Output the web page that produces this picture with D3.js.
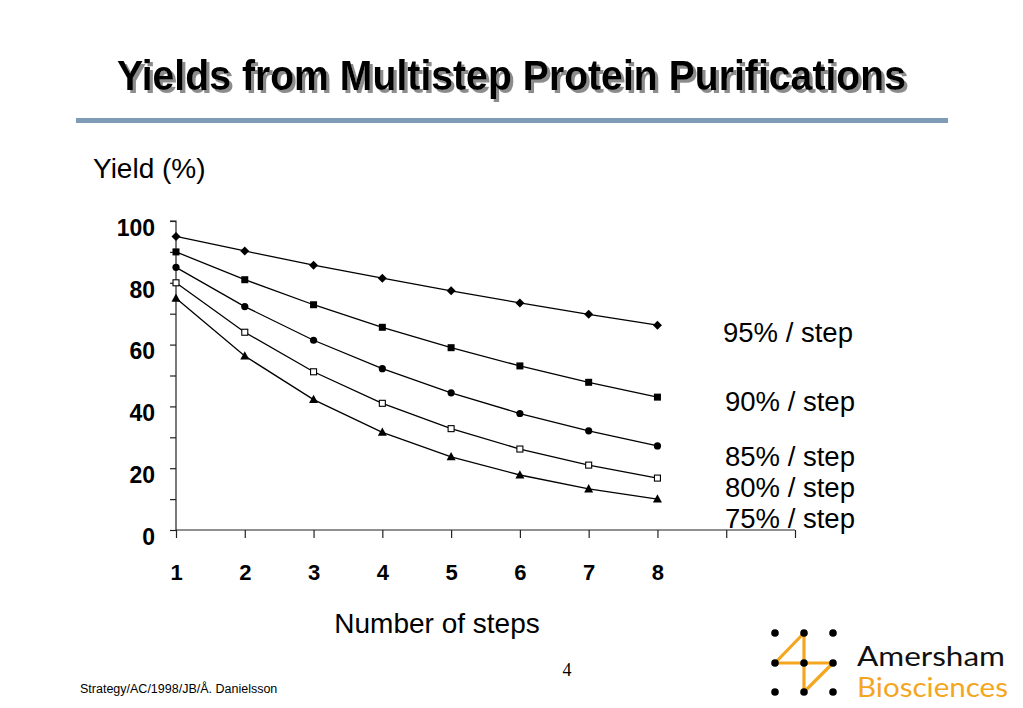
<!DOCTYPE html>
<html>
<head>
<meta charset="utf-8">
<script src="https://cdn.jsdelivr.net/npm/d3@7"></script>
<style>
html,body{margin:0;padding:0;background:#fff;}
svg{display:block;}
</style>
</head>
<body>
<svg id="c" width="1023" height="708"></svg>
<script>
// ---- data ----
const steps = [1, 2, 3, 4, 5, 6, 7, 8];
const xTicks = [1, 2, 3, 4, 5, 6, 7, 8, 9, 10];
const xTickLabels = ["1", "2", "3", "4", "5", "6", "7", "8", "", ""];
const yTicks = [0, 10, 20, 30, 40, 50, 60, 70, 80, 90, 100];
const yTickLabels = ["0", "", "20", "", "40", "", "60", "", "80", "", "100"];
const seriesNames = ["95% / step", "90% / step", "85% / step", "80% / step", "75% / step"];
const y95 = [95, 90.3, 85.7, 81.5, 77.4, 73.5, 69.8, 66.3];
const y90 = [90, 81, 72.9, 65.6, 59.0, 53.1, 47.8, 43.0];
const y85 = [85, 72.3, 61.4, 52.2, 44.4, 37.7, 32.1, 27.2];
const y80 = [80, 64, 51.2, 41.0, 32.8, 26.2, 21.0, 16.8];
const y75 = [75, 56.3, 42.2, 31.6, 23.7, 17.8, 13.3, 10.0];
const seriesValues = [y95, y90, y85, y80, y75];
const markers = ["diamond", "square", "circle", "opensquare", "triangle"];

// ---- layout ----
const svg = d3.select("#c");
const x = d3.scaleLinear().domain([1, 10]).range([176, 795]);
const y = d3.scaleLinear().domain([0, 100]).range([530, 221]);
const labelY = [342, 411, 466, 497, 528];
const labelX = [723, 725, 725, 725, 725];

// shadow filter for title
const defs = svg.append("defs");
const f = defs.append("filter").attr("id", "shadow").attr("x", "-5%").attr("y", "-20%").attr("width", "110%").attr("height", "150%");
f.append("feDropShadow").attr("dx", 3).attr("dy", 3).attr("stdDeviation", 0.3)
  .attr("flood-color", "#8c8c8c").attr("flood-opacity", 1);

const titleText = "Yields from Multistep Protein Purifications";
const tfont = "'Liberation Sans Narrow','Arial Narrow','Liberation Sans',Arial,sans-serif";
svg.append("text").attr("x", 117).attr("y", 90)
  .attr("font-family", tfont).attr("font-weight", "bold").attr("font-size", 42)
  .attr("fill", "#000").attr("textLength", 789).attr("lengthAdjust", "spacingAndGlyphs")
  .attr("filter", "url(#shadow)")
  .text(titleText);

// rule
svg.append("rect").attr("x", 76).attr("y", 118).attr("width", 872).attr("height", 5)
  .attr("fill", "#7f9cb7");

const sans = "'Liberation Sans',Arial,Helvetica,sans-serif";

// y title
svg.append("text").attr("x", 93).attr("y", 178).attr("font-family", sans)
  .attr("font-size", 28).attr("fill", "#000").text("Yield (%)");

// axes
const yAxis = d3.axisLeft(y).tickValues(yTicks).tickSize(6).tickPadding(15)
  .tickFormat((d, i) => yTickLabels[i]);
const gy = svg.append("g").attr("transform", "translate(176,0)").call(yAxis);
gy.select(".domain").attr("stroke", "#222").attr("stroke-width", 1.2).attr("d", "M-6," + y(100) + "H0V" + y(0));
gy.selectAll(".tick line").attr("stroke", "#222").attr("stroke-width", 1.2);
gy.selectAll(".tick text").attr("font-family", sans).attr("font-weight", "bold")
  .attr("font-size", 23).attr("fill", "#000").attr("y", 0).attr("dy", "0.62em");

const xAxis = d3.axisBottom(x).tickValues(xTicks).tickSize(8).tickPadding(26)
  .tickFormat((d, i) => xTickLabels[i]);
const gx = svg.append("g").attr("transform", "translate(0,530)").call(xAxis);
gx.select(".domain").attr("stroke", "#222").attr("stroke-width", 1.2).attr("d", "M" + x(1) + ",0H" + x(10));
gx.selectAll(".tick line").attr("stroke", "#222").attr("stroke-width", 1.2);
gx.selectAll(".tick text").attr("font-family", sans).attr("font-weight", "bold")
  .attr("font-size", 22).attr("fill", "#000");

// lines
const line = d3.line().x((d, i) => x(steps[i])).y(d => y(d));
seriesValues.forEach((vals) => {
  svg.append("path").datum(vals).attr("d", line)
    .attr("fill", "none").attr("stroke", "#000").attr("stroke-width", 1.3);
});

// markers
seriesValues.forEach((vals, si) => {
  const m = markers[si];
  const g = svg.append("g");
  vals.forEach((v, i) => {
    const cx = x(steps[i]), cy = y(v);
    if (m === "diamond") {
      g.append("path").attr("d", `M${cx},${cy-4.5}L${cx+4.5},${cy}L${cx},${cy+4.5}L${cx-4.5},${cy}Z`).attr("fill", "#000");
    } else if (m === "square") {
      g.append("rect").attr("x", cx-3.5).attr("y", cy-3.5).attr("width", 7).attr("height", 7).attr("fill", "#000");
    } else if (m === "circle") {
      g.append("circle").attr("cx", cx).attr("cy", cy).attr("r", 3.6).attr("fill", "#000");
    } else if (m === "opensquare") {
      g.append("rect").attr("x", cx-3).attr("y", cy-3).attr("width", 6).attr("height", 6)
        .attr("fill", "#fff").attr("stroke", "#000").attr("stroke-width", 1.1);
    } else {
      g.append("path").attr("d", `M${cx},${cy-4.8}L${cx+4.5},${cy+3.5}L${cx-4.5},${cy+3.5}Z`).attr("fill", "#000");
    }
  });
});

// series labels
seriesNames.forEach((n, i) => {
  svg.append("text").attr("x", labelX[i]).attr("y", labelY[i]).attr("font-family", sans)
    .attr("font-size", 27.5).attr("fill", "#000").text(n);
});

// x title
svg.append("text").attr("x", 437).attr("y", 633).attr("text-anchor", "middle")
  .attr("font-family", sans).attr("font-size", 28).attr("fill", "#000").text("Number of steps");

// footer
svg.append("text").attr("x", 80).attr("y", 693).attr("font-family", sans)
  .attr("font-size", 12.5).attr("fill", "#000").text("Strategy/AC/1998/JB/Å. Danielsson");
svg.append("text").attr("x", 567).attr("y", 676).attr("text-anchor", "middle")
  .attr("font-family", "'Liberation Serif','Times New Roman',serif")
  .attr("font-size", 18).attr("fill", "#000").text("4");

// logo
const orange = "#f4a61f";
const lx = [775, 804, 833], ly = [633, 663, 692];
const logo = svg.append("g");
const segs = [[1,0,0,1],[0,1,2,1],[1,0,1,2],[2,1,1,2]];
segs.forEach(s => {
  logo.append("line").attr("x1", lx[s[0]]).attr("y1", ly[s[1]]).attr("x2", lx[s[2]]).attr("y2", ly[s[3]])
    .attr("stroke", orange).attr("stroke-width", 3.2).attr("stroke-linecap", "round");
});
lx.forEach(px => ly.forEach(py => {
  logo.append("circle").attr("cx", px).attr("cy", py).attr("r", 3.8).attr("fill", "#000");
}));
const lfont = "Lato,'Open Sans',sans-serif";
svg.append("text").attr("x", 857).attr("y", 666).attr("font-family", lfont)
  .attr("font-size", 26).attr("fill", "#111").attr("textLength", 148).attr("lengthAdjust", "spacingAndGlyphs").text("Amersham");
svg.append("text").attr("x", 857).attr("y", 697).attr("font-family", lfont)
  .attr("font-size", 26).attr("fill", orange).attr("textLength", 151).attr("lengthAdjust", "spacingAndGlyphs").text("Biosciences");
</script>
</body>
</html>
